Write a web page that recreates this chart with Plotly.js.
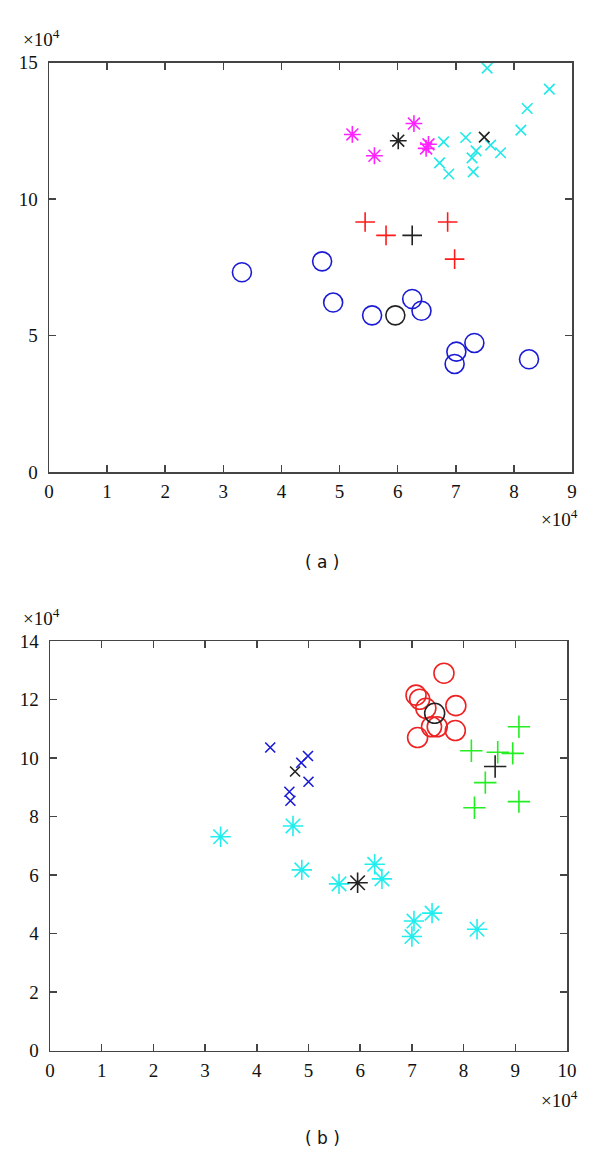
<!DOCTYPE html>
<html>
<head>
<meta charset="utf-8">
<script src="https://cdn.plot.ly/plotly-3.0.1.min.js"></script>
<style>html,body{margin:0;padding:0;background:#fff;}#chart{width:600px;height:1160px;}</style>
</head>
<body>
<div id="chart"></div>
<script>
// values in units of 10^4 (as shown on the axes)
// ---- panel (a) ----
const aCircleX = [3.32, 4.70, 4.89, 5.56, 6.25, 6.41, 7.01, 6.98, 7.32, 8.26];
const aCircleY = [7.32, 7.72, 6.21, 5.74, 6.34, 5.91, 4.41, 3.96, 4.73, 4.13];
const aPlusX = [5.44, 5.80, 6.86, 6.98];
const aPlusY = [9.16, 8.67, 9.16, 7.80];
const aStarX = [5.22, 5.60, 6.28, 6.53, 6.49];
const aStarY = [12.37, 11.59, 12.77, 12.01, 11.86];
const aCrossX = [6.79, 6.72, 6.88, 7.17, 7.35, 7.28, 7.30, 7.60, 7.77, 8.12, 8.23, 8.61, 7.54];
const aCrossY = [12.10, 11.33, 10.92, 12.26, 11.77, 11.51, 11.00, 11.98, 11.70, 12.53, 13.32, 14.03, 14.80];
const aCentersX = [5.96, 6.25, 6.01, 7.49];
const aCentersY = [5.74, 8.67, 12.14, 12.27];
// ---- panel (b) ----
const bCircleX = [7.62, 7.08, 7.15, 7.27, 7.85, 7.38, 7.49, 7.84, 7.11];
const bCircleY = [12.90, 12.15, 12.01, 11.70, 11.79, 11.07, 11.07, 10.94, 10.70];
const bPlusX = [9.07, 8.15, 8.66, 8.95, 8.42, 8.21, 9.07];
const bPlusY = [11.07, 10.25, 10.20, 10.16, 9.16, 8.30, 8.51];
const bCrossX = [4.26, 4.99, 4.86, 5.00, 4.63, 4.65];
const bCrossY = [10.36, 10.07, 9.84, 9.19, 8.85, 8.54];
const bStarX = [3.30, 4.70, 4.87, 5.59, 6.28, 6.42, 7.04, 7.39, 7.00, 8.26];
const bStarY = [7.31, 7.68, 6.18, 5.70, 6.37, 5.87, 4.43, 4.70, 3.90, 4.15];
const bCentersX = [7.44, 8.61, 4.74, 5.95];
const bCentersY = [11.53, 9.71, 9.54, 5.74];
// ticks
const aXTicks = [0,1,2,3,4,5,6,7,8,9];
const aYTicks = [0,5,10,15];
const bXTicks = [0,1,2,3,4,5,6,7,8,9,10];
const bYTicks = [0,2,4,6,8,10,12,14];
const multLabel = '×10<sup>4</sup>';
const panelLabels = ['( a )', '( b )'];

function tr(x, y, sym, color, size, xa, ya, lw) {
  return {x: x, y: y, type: 'scatter', mode: 'markers', xaxis: xa, yaxis: ya, hoverinfo: 'skip',
    marker: {symbol: sym, size: size, color: color, line: {color: color, width: lw || 1.6}}};
}
const data = [
  tr(aCircleX, aCircleY, 'circle-open', '#1a1ad6', 19, 'x', 'y'),
  tr(aPlusX, aPlusY, 'cross-thin-open', '#ff1a1a', 14, 'x', 'y'),
  tr(aStarX, aStarY, 'asterisk-open', '#ff22ff', 14, 'x', 'y'),
  tr(aCrossX, aCrossY, 'x-thin-open', '#22e8e8', 10.5, 'x', 'y'),
  tr([aCentersX[0]], [aCentersY[0]], 'circle-open', '#222', 19, 'x', 'y'),
  tr([aCentersX[1]], [aCentersY[1]], 'cross-thin-open', '#222', 14, 'x', 'y'),
  tr([aCentersX[2]], [aCentersY[2]], 'asterisk-open', '#222', 14, 'x', 'y'),
  tr([aCentersX[3]], [aCentersY[3]], 'x-thin-open', '#222', 10.5, 'x', 'y'),
  tr(bCircleX, bCircleY, 'circle-open', '#ee2222', 20, 'x2', 'y2'),
  tr(bPlusX, bPlusY, 'cross-thin-open', '#22ee22', 16, 'x2', 'y2'),
  tr(bCrossX, bCrossY, 'x-thin-open', '#1a1ad6', 10, 'x2', 'y2'),
  tr(bStarX, bStarY, 'asterisk-open', '#22eeee', 17, 'x2', 'y2'),
  tr([bCentersX[0]], [bCentersY[0]], 'circle-open', '#222', 20, 'x2', 'y2'),
  tr([bCentersX[1]], [bCentersY[1]], 'cross-thin-open', '#222', 16, 'x2', 'y2'),
  tr([bCentersX[2]], [bCentersY[2]], 'x-thin-open', '#222', 10, 'x2', 'y2'),
  tr([bCentersX[3]], [bCentersY[3]], 'asterisk-open', '#222', 17, 'x2', 'y2')
];
function serif(size) { return {family: 'Liberation Serif, Times New Roman, serif', size: size, color: '#111'}; }
function ax(range, ticks, dom, anchor, standoff) {
  return {range: range, domain: dom, anchor: anchor, tickmode: 'array', tickvals: ticks, ticktext: ticks.map(String),
    showgrid: false, zeroline: false, showline: true, linecolor: '#444', linewidth: 1.5,
    mirror: 'ticks', ticks: 'inside', ticklen: 7, tickwidth: 1.5, tickcolor: '#444',
    ticklabelstandoff: standoff, tickfont: serif(19), fixedrange: true};
}
function ann(text, x, y, xanchor, font) {
  return {text: text, xref: 'paper', yref: 'paper', x: x / 600, y: 1 - y / 1160,
    xanchor: xanchor, yanchor: 'middle', showarrow: false, font: font};
}
const sansFont = {family: 'DejaVu Sans, Verdana, sans-serif', size: 17, color: '#111'};
const layout = {
  width: 600, height: 1160, showlegend: false,
  font: {family: 'Liberation Serif, Times New Roman, serif', size: 19, color: '#111'},
  margin: {l: 0, r: 0, t: 0, b: 0},
  paper_bgcolor: '#fff', plot_bgcolor: '#fff',
  xaxis: ax([0, 9], aXTicks, [49/600, 572/600], 'y', 2),
  yaxis: ax([0, 15], aYTicks, [1 - 472/1160, 1 - 62.7/1160], 'x', 6),
  xaxis2: ax([0, 10], bXTicks, [50/600, 567/600], 'y2', 2),
  yaxis2: ax([0, 14], bYTicks, [1 - 1050.7/1160, 1 - 641/1160], 'x2', 6),
  annotations: [
    ann(multLabel, 41, 38, 'center', serif(19)),
    ann(multLabel, 580, 518, 'right', serif(19)),
    ann(panelLabels[0], 322, 562, 'center', sansFont),
    ann(multLabel, 41, 617, 'center', serif(19)),
    ann(multLabel, 580, 1099, 'right', serif(19)),
    ann(panelLabels[1], 322, 1138, 'center', sansFont)
  ]
};
Plotly.newPlot('chart', data, layout, {staticPlot: true, displayModeBar: false});
</script>
</body>
</html>
